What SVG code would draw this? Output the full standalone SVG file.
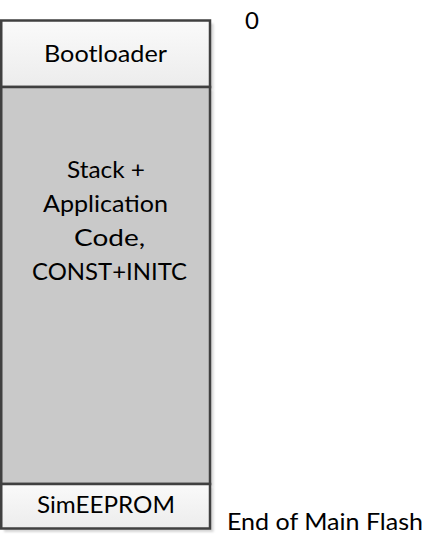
<svg xmlns="http://www.w3.org/2000/svg" width="424" height="539" viewBox="0 0 424 539">
  <defs>
    <linearGradient id="light" x1="0" y1="0" x2="0" y2="1">
      <stop offset="0" stop-color="#fafafa"/>
      <stop offset="1" stop-color="#ececec"/>
    </linearGradient>
    <filter id="shadow" x="-10%" y="-10%" width="120%" height="120%">
      <feGaussianBlur stdDeviation="1"/>
    </filter>
  </defs>
  <style>
    .box { stroke: #404040; stroke-width: 2.5; }
    .shadow { fill: #d6d6d6; filter: url(#shadow); }
    text { font-family: Lato, "Liberation Sans", Arial, sans-serif; font-size: 24px; fill: #000; }
  </style>
  <rect width="424" height="539" fill="#ffffff"/>
  <g id="shadows">
    <rect class="shadow" x="4" y="23.5" width="209.5" height="66.5"/>
    <rect class="shadow" x="4" y="90" width="209.5" height="397"/>
    <rect class="shadow" x="4" y="487" width="209.5" height="45"/>
  </g>
  <g id="bootloader">
    <rect class="box" x="1.25" y="20.5" width="208.75" height="66.5" fill="url(#light)"/>
    <text x="44" y="62" textLength="123" lengthAdjust="spacingAndGlyphs">Bootloader</text>
  </g>
  <g id="application">
    <rect class="box" x="1.25" y="87" width="208.75" height="397" fill="#c9c9c9"/>
    <text x="67" y="178" textLength="78" lengthAdjust="spacingAndGlyphs">Stack +</text>
    <text x="43" y="212" textLength="125" lengthAdjust="spacingAndGlyphs">Application</text>
    <text x="74" y="246" textLength="71" lengthAdjust="spacingAndGlyphs">Code,</text>
    <text x="32" y="280" textLength="155" lengthAdjust="spacingAndGlyphs">CONST+INITC</text>
  </g>
  <g id="simeeprom">
    <rect class="box" x="1.25" y="484" width="208.75" height="44.5" fill="url(#light)"/>
    <text x="37" y="513" textLength="138" lengthAdjust="spacingAndGlyphs">SimEEPROM</text>
  </g>
  <g id="labels">
    <text x="245" y="29">0</text>
    <text x="227" y="530" textLength="196" lengthAdjust="spacingAndGlyphs">End of Main Flash</text>
  </g>
  <g id="connectors"/>
</svg>
